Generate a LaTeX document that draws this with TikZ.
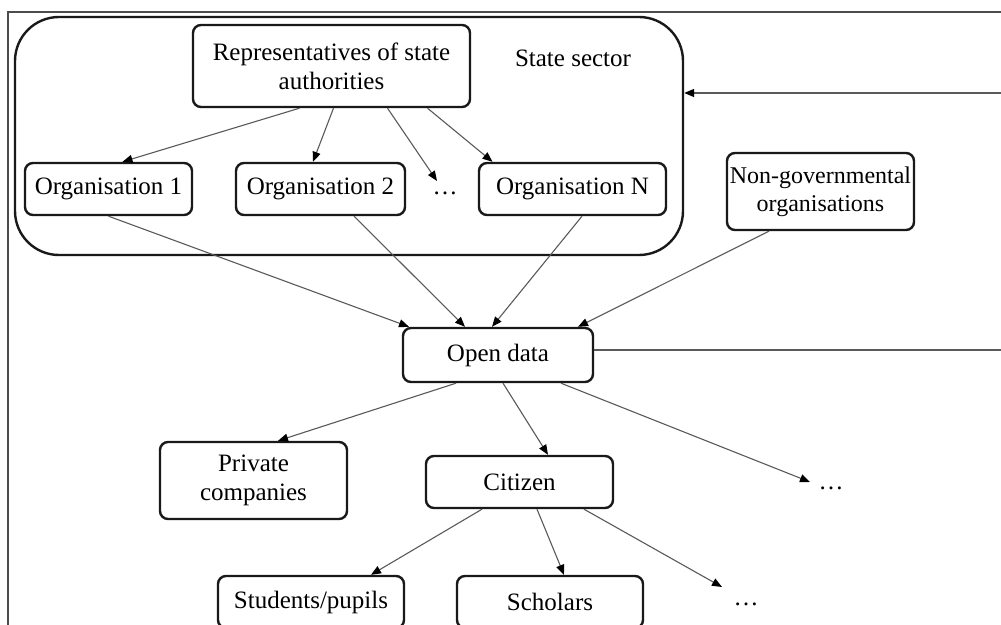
\documentclass[tikz,border=0pt]{standalone}
\usepackage{fontspec}
\setmainfont{Liberation Serif}
\usetikzlibrary{arrows.meta}

\begin{document}
\begin{tikzpicture}[
x=0.5pt, y=-0.5pt,
font=\fontsize{12.5}{14.5}\selectfont,
box/.style={
draw=black!90,
line width=1.2pt,
rounded corners=4pt,
align=center,
inner sep=0 pt,
minimum height=26pt,
},
sector/.style={
draw=black!90,
line width=1.2pt,
rounded corners=22pt,
minimum width=334pt,
minimum height=119pt,
},
dotsnode/.style={inner sep=0 pt},
conn/.style={black!65, line width=0.55pt, arrows={-{Triangle[length=5pt,width=4pt,black]}}},
]
\useasboundingbox (0,0) rectangle (1001,625);

% screenshot frame
\draw[black!70, line width=0.7pt] (1001,12) -- (8,12) -- (8,625);

% state sector
\node [sector] at (349,136) (state) {};
\node at (573,58) (statelabel) {State sector};
\node [box, minimum width=138.5pt, minimum height=41pt] at (331.5,66) (rep)
{Representatives of state\\authorities};
\node [box, minimum width=83.5pt] at (108.5,189) (org1) {Organisation 1};
\node [box, minimum width=84.5pt] at (320.5,189) (org2) {Organisation 2};
\node [dotsnode] at (445,193) (dots1) {\ldots};
\node [box, minimum width=93.5pt] at (572.5,189) (orgN) {Organisation N};

\draw [conn] ([xshift=-16pt]rep.south) -- ([xshift=7pt]org1.north);
\draw [conn] ([xshift=1pt]rep.south) -- ([xshift=-3.75pt]org2.north);
\draw [conn] ([xshift=28pt]rep.south) -- ([shift={(-4pt,6pt)}]dots1.center);
\draw [conn] ([xshift=48pt]rep.south) -- ([xshift=-40pt]orgN.north);

% open data and its sources
\node [box, minimum width=93.5pt, minimum height=38.5pt,
font=\fontsize{12}{14}\selectfont] at (820.5,191.5) (ngo)
{Non-governmental\\organisations};
\node [box, minimum width=95pt, minimum height=27pt] at (498,355) (od) {Open data};

\draw [conn] (org1.south) -- ([xshift=-44.5pt]od.north);
\draw [conn] ([xshift=16.75pt]org2.south) -- ([xshift=-16.5pt]od.north);
\draw [conn] ([xshift=4.75pt]orgN.south) -- ([xshift=-3pt]od.north);
\draw [conn] ([xshift=-25.75pt]ngo.south) -- ([xshift=40pt]od.north);

% feedback to the state sector
\coordinate (fbin) at (1001,93);
\coordinate (fbout) at (1001,350);
\draw [conn, line width=0.75pt] (fbin) -- (fbin -| state.east);
\draw [black!65, line width=0.75pt] (od.east |- fbout) -- (fbout);

% users
\node [box, minimum width=93.5pt, minimum height=38.5pt] at (253.5,480.5) (priv)
{Private\\companies};
\node [box, minimum width=93.5pt] at (519.5,482) (cit) {Citizen};
\node [dotsnode] at (831,488) (dotsR) {\ldots};

\draw [conn] ([xshift=-21pt]od.south) -- ([xshift=12.25pt]priv.north);
\draw [conn] ([xshift=2.5pt]od.south) -- ([xshift=14.25pt]cit.north);
\draw [conn] ([xshift=31.5pt]od.south) -- ([shift={(-10.5pt,3pt)}]dotsR.center);

\node [box, minimum width=93pt] at (311,602) (stud) {Students/pupils};
\node [box, minimum width=93pt] at (550,602) (schol) {Scholars};
\node [dotsnode] at (746,604) (dotsB) {\ldots};

\draw [conn] ([xshift=-18.75pt]cit.south) -- ([xshift=30pt]stud.north);
\draw [conn] ([xshift=8.75pt]cit.south) -- ([xshift=7pt]schol.north);
\draw [conn] ([xshift=32.25pt]cit.south) -- ([shift={(-12pt,8.5pt)}]dotsB.center);

\end{tikzpicture}
\end{document}
